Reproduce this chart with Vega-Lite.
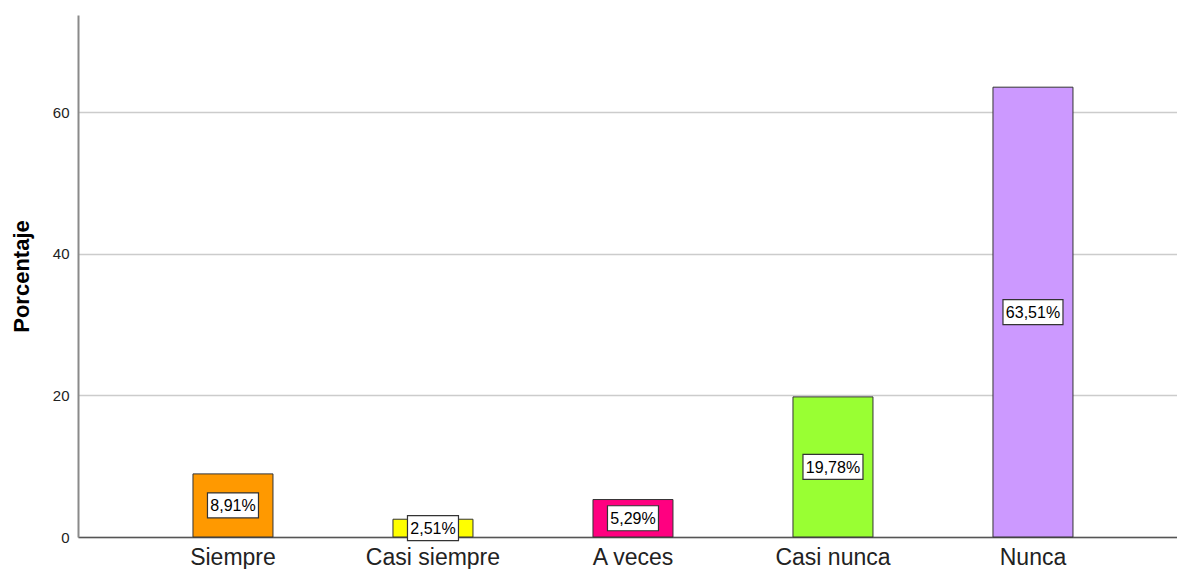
{
  "$schema": "https://vega.github.io/schema/vega-lite/v6.json",
  "width": 1099,
  "height": 522,
  "autosize": {"type": "none"},
  "padding": {"left": 78, "top": 15, "right": 0, "bottom": 32},
  "background": "white",
  "config": {
    "view": {"stroke": null},
    "font": "Liberation Sans"
  },
  "data": {
    "values": [
      {"cat": "Siempre", "pct": 8.91, "label": "8,91%"},
      {"cat": "Casi siempre", "pct": 2.51, "label": "2,51%"},
      {"cat": "A veces", "pct": 5.29, "label": "5,29%"},
      {"cat": "Casi nunca", "pct": 19.78, "label": "19,78%"},
      {"cat": "Nunca", "pct": 63.51, "label": "63,51%"}
    ]
  },
  "encoding": {
    "x": {
      "field": "cat",
      "type": "nominal",
      "sort": null,
      "scale": {"paddingInner": 0.6, "paddingOuter": 0.5475, "align": 0.525},
      "axis": {
        "title": null,
        "labelAngle": 0,
        "labelFontSize": 23,
        "labelColor": "#222222",
        "labelPadding": 9,
        "ticks": false,
        "domainColor": "#555555",
        "domainWidth": 1.5
      }
    }
  },
  "layer": [
    {
      "mark": {"type": "bar", "stroke": "#333333", "strokeWidth": 1},
      "encoding": {
        "y": {
          "field": "pct",
          "type": "quantitative",
          "scale": {"domain": [0, 73.7], "nice": false},
          "axis": {
            "title": "Porcentaje",
            "titleFontSize": 22,
            "titleFontWeight": "bold",
            "titleColor": "#000000",
            "titlePadding": 19,
            "values": [0, 20, 40, 60],
            "labelFontSize": 15,
            "labelColor": "#222222",
            "labelPadding": 9,
            "ticks": false,
            "domainColor": "#8a8a8a",
            "domainWidth": 2,
            "gridColor": "#cccccc",
            "gridWidth": 1.5
          }
        },
        "color": {
          "field": "cat",
          "type": "nominal",
          "sort": null,
          "legend": null,
          "scale": {
            "domain": ["Siempre", "Casi siempre", "A veces", "Casi nunca", "Nunca"],
            "range": ["#FF9900", "#FFFF00", "#FF0080", "#99FF33", "#CC99FF"]
          }
        }
      }
    },
    {
      "layer": [
        {
          "mark": {"type": "bar", "fill": "white", "stroke": "#333333", "strokeWidth": 1.2, "yOffset": -12.5, "y2Offset": 12.5},
          "encoding": {
            "y": {"field": "pct", "type": "quantitative", "scale": {"domain": [0, 147.4], "nice": false}, "axis": null},
            "y2": {"field": "pct"},
            "size": {"condition": {"test": "datum.pct >= 10", "value": 60}, "value": 51}
          }
        },
        {
          "mark": {"type": "text", "fontSize": 16, "color": "#000000", "baseline": "middle", "align": "center", "dy": 1},
          "encoding": {
            "y": {"field": "pct", "type": "quantitative", "scale": {"domain": [0, 147.4], "nice": false}, "axis": null},
            "text": {"field": "label"}
          }
        }
      ]
    }
  ],
  "resolve": {"scale": {"y": "independent"}}
}
